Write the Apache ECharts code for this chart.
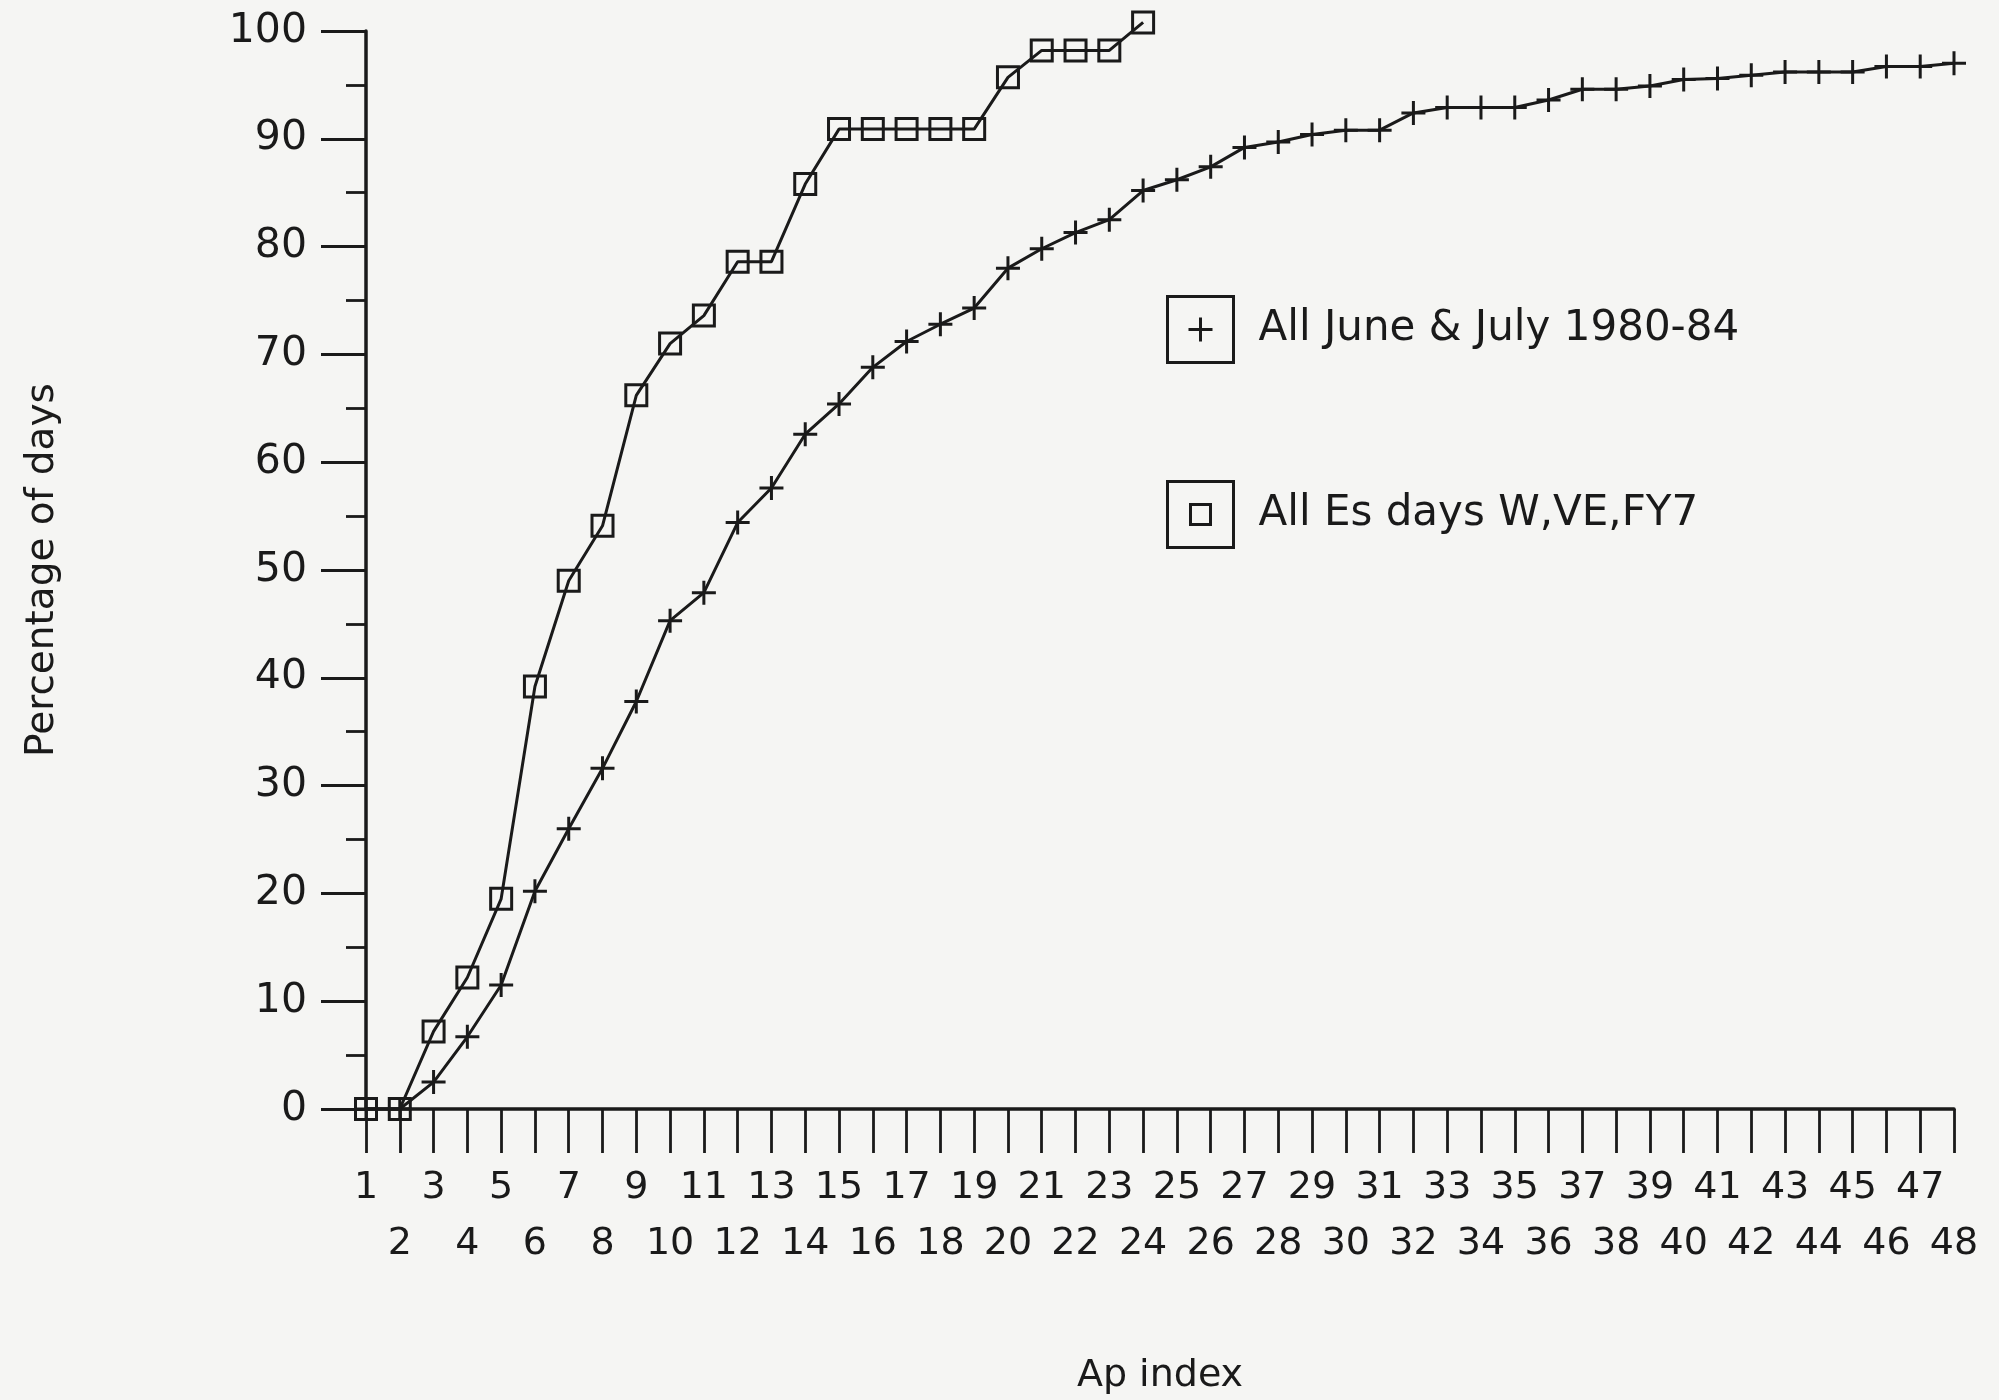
<!DOCTYPE html>
<html>
<head>
<meta charset="utf-8">
<script src="https://cdn.jsdelivr.net/npm/echarts@6/dist/echarts.min.js"></script>
<style>
  html, body { margin: 0; padding: 0; background: #f5f5f3; }
  #chart { width: 1999px; height: 1400px; }
</style>
</head>
<body>
<div id="chart"></div>
<script>
// Ap index categories
const apIndex = ['1','2','3','4','5','6','7','8','9','10','11','12','13','14','15','16','17','18','19','20',
  '21','22','23','24','25','26','27','28','29','30','31','32','33','34','35','36','37','38','39','40',
  '41','42','43','44','45','46','47','48'];

// Cumulative percentage of days, All June & July 1980-84 (plus markers)
const juneJuly = [0, 0, 2.5, 6.7, 11.5, 20.2, 26.0, 31.6, 37.8, 45.3,
  47.9, 54.4, 57.6, 62.6, 65.4, 68.8, 71.2, 72.8, 74.3, 78.0,
  79.8, 81.3, 82.5, 85.2, 86.2, 87.4, 89.2, 89.7, 90.4, 90.8,
  90.8, 92.4, 92.9, 92.9, 92.9, 93.6, 94.6, 94.6, 94.9, 95.5,
  95.6, 95.9, 96.2, 96.2, 96.2, 96.7, 96.7, 97.0];

// Cumulative percentage of days, All Es days W,VE,FY7 (square markers)
const esDays = [0, 0, 7.2, 12.2, 19.5, 39.2, 49.0, 54.1, 66.2, 71.0,
  73.6, 78.6, 78.6, 85.8, 90.9, 90.9, 90.9, 90.9, 90.9, 95.7,
  98.2, 98.2, 98.2, 100.8];

const yTicks = { min: 0, max: 100, interval: 10 };

const seriesNames = ['All June & July 1980-84', 'All Es days W,VE,FY7'];

const INK = '#1a1a1a';
const FONT = '"DejaVu Sans", Verdana, sans-serif';

const chart = echarts.init(document.getElementById('chart'));
chart.setOption({
  backgroundColor: '#f5f5f3',
  animation: false,
  grid: { left: 366, right: 45, top: 31, bottom: 289, containLabel: false },
  legend: {
    orient: 'vertical',
    left: 1166,
    top: 295,
    itemWidth: 66,
    itemHeight: 66,
    itemGap: 116,
    selectedMode: false,
    padding: 0,
    textStyle: { fontFamily: FONT, fontSize: 42, color: INK, padding: [0, 0, 0, 20] },
    data: [
      {
        name: seriesNames[0],
        icon: 'path://M0,0L66,0L66,66L0,66Z M21,33L45,33 M33,21L33,45',
        itemStyle: { color: 'transparent', borderColor: INK, borderWidth: 3 }
      },
      {
        name: seriesNames[1],
        icon: 'path://M0,0L66,0L66,66L0,66Z M23,23L43,23L43,43L23,43Z',
        itemStyle: { color: 'transparent', borderColor: INK, borderWidth: 3 }
      }
    ]
  },
  xAxis: {
    type: 'category',
    data: apIndex,
    boundaryGap: false,
    name: 'Ap index',
    nameLocation: 'middle',
    nameGap: 248,
    nameTextStyle: { fontFamily: FONT, fontSize: 38, color: INK },
    axisLine: { lineStyle: { color: INK, width: 3.5 } },
    axisTick: { show: true, interval: 0, length: 44, lineStyle: { color: INK, width: 2.8 } },
    axisLabel: {
      interval: 0,
      margin: 51,
      fontFamily: FONT,
      fontSize: 38,
      color: INK,
      lineHeight: 56,
      formatter: function (v) { return (parseInt(v, 10) % 2 === 0) ? '\n' + v : v; }
    },
    splitLine: { show: false }
  },
  yAxis: {
    type: 'value',
    min: yTicks.min,
    max: yTicks.max,
    interval: yTicks.interval,
    name: 'Percentage of days',
    nameLocation: 'middle',
    nameGap: 304,
    nameTextStyle: { fontFamily: FONT, fontSize: 39, color: INK },
    axisLine: { show: true, lineStyle: { color: INK, width: 3.5 } },
    axisTick: { show: true, length: 45, lineStyle: { color: INK, width: 2.8 } },
    minorTick: { show: true, splitNumber: 2, length: 20, lineStyle: { color: INK, width: 2.8 } },
    axisLabel: { margin: 59, fontFamily: FONT, fontSize: 41, color: INK },
    splitLine: { show: false }
  },
  series: [
    {
      name: seriesNames[0],
      type: 'line',
      data: juneJuly,
      clip: false,
      symbol: 'path://M0,12L24,12M12,0L12,24',
      symbolSize: 24,
      showAllSymbol: true,
      itemStyle: { color: 'transparent', borderColor: INK, borderWidth: 3 },
      lineStyle: { color: INK, width: 3 },
      z: 3
    },
    {
      name: seriesNames[1],
      type: 'line',
      data: esDays,
      clip: false,
      symbol: 'rect',
      symbolSize: 21,
      showAllSymbol: true,
      itemStyle: { color: 'transparent', borderColor: INK, borderWidth: 3 },
      lineStyle: { color: INK, width: 3 },
      z: 4
    }
  ]
});
</script>
</body>
</html>
